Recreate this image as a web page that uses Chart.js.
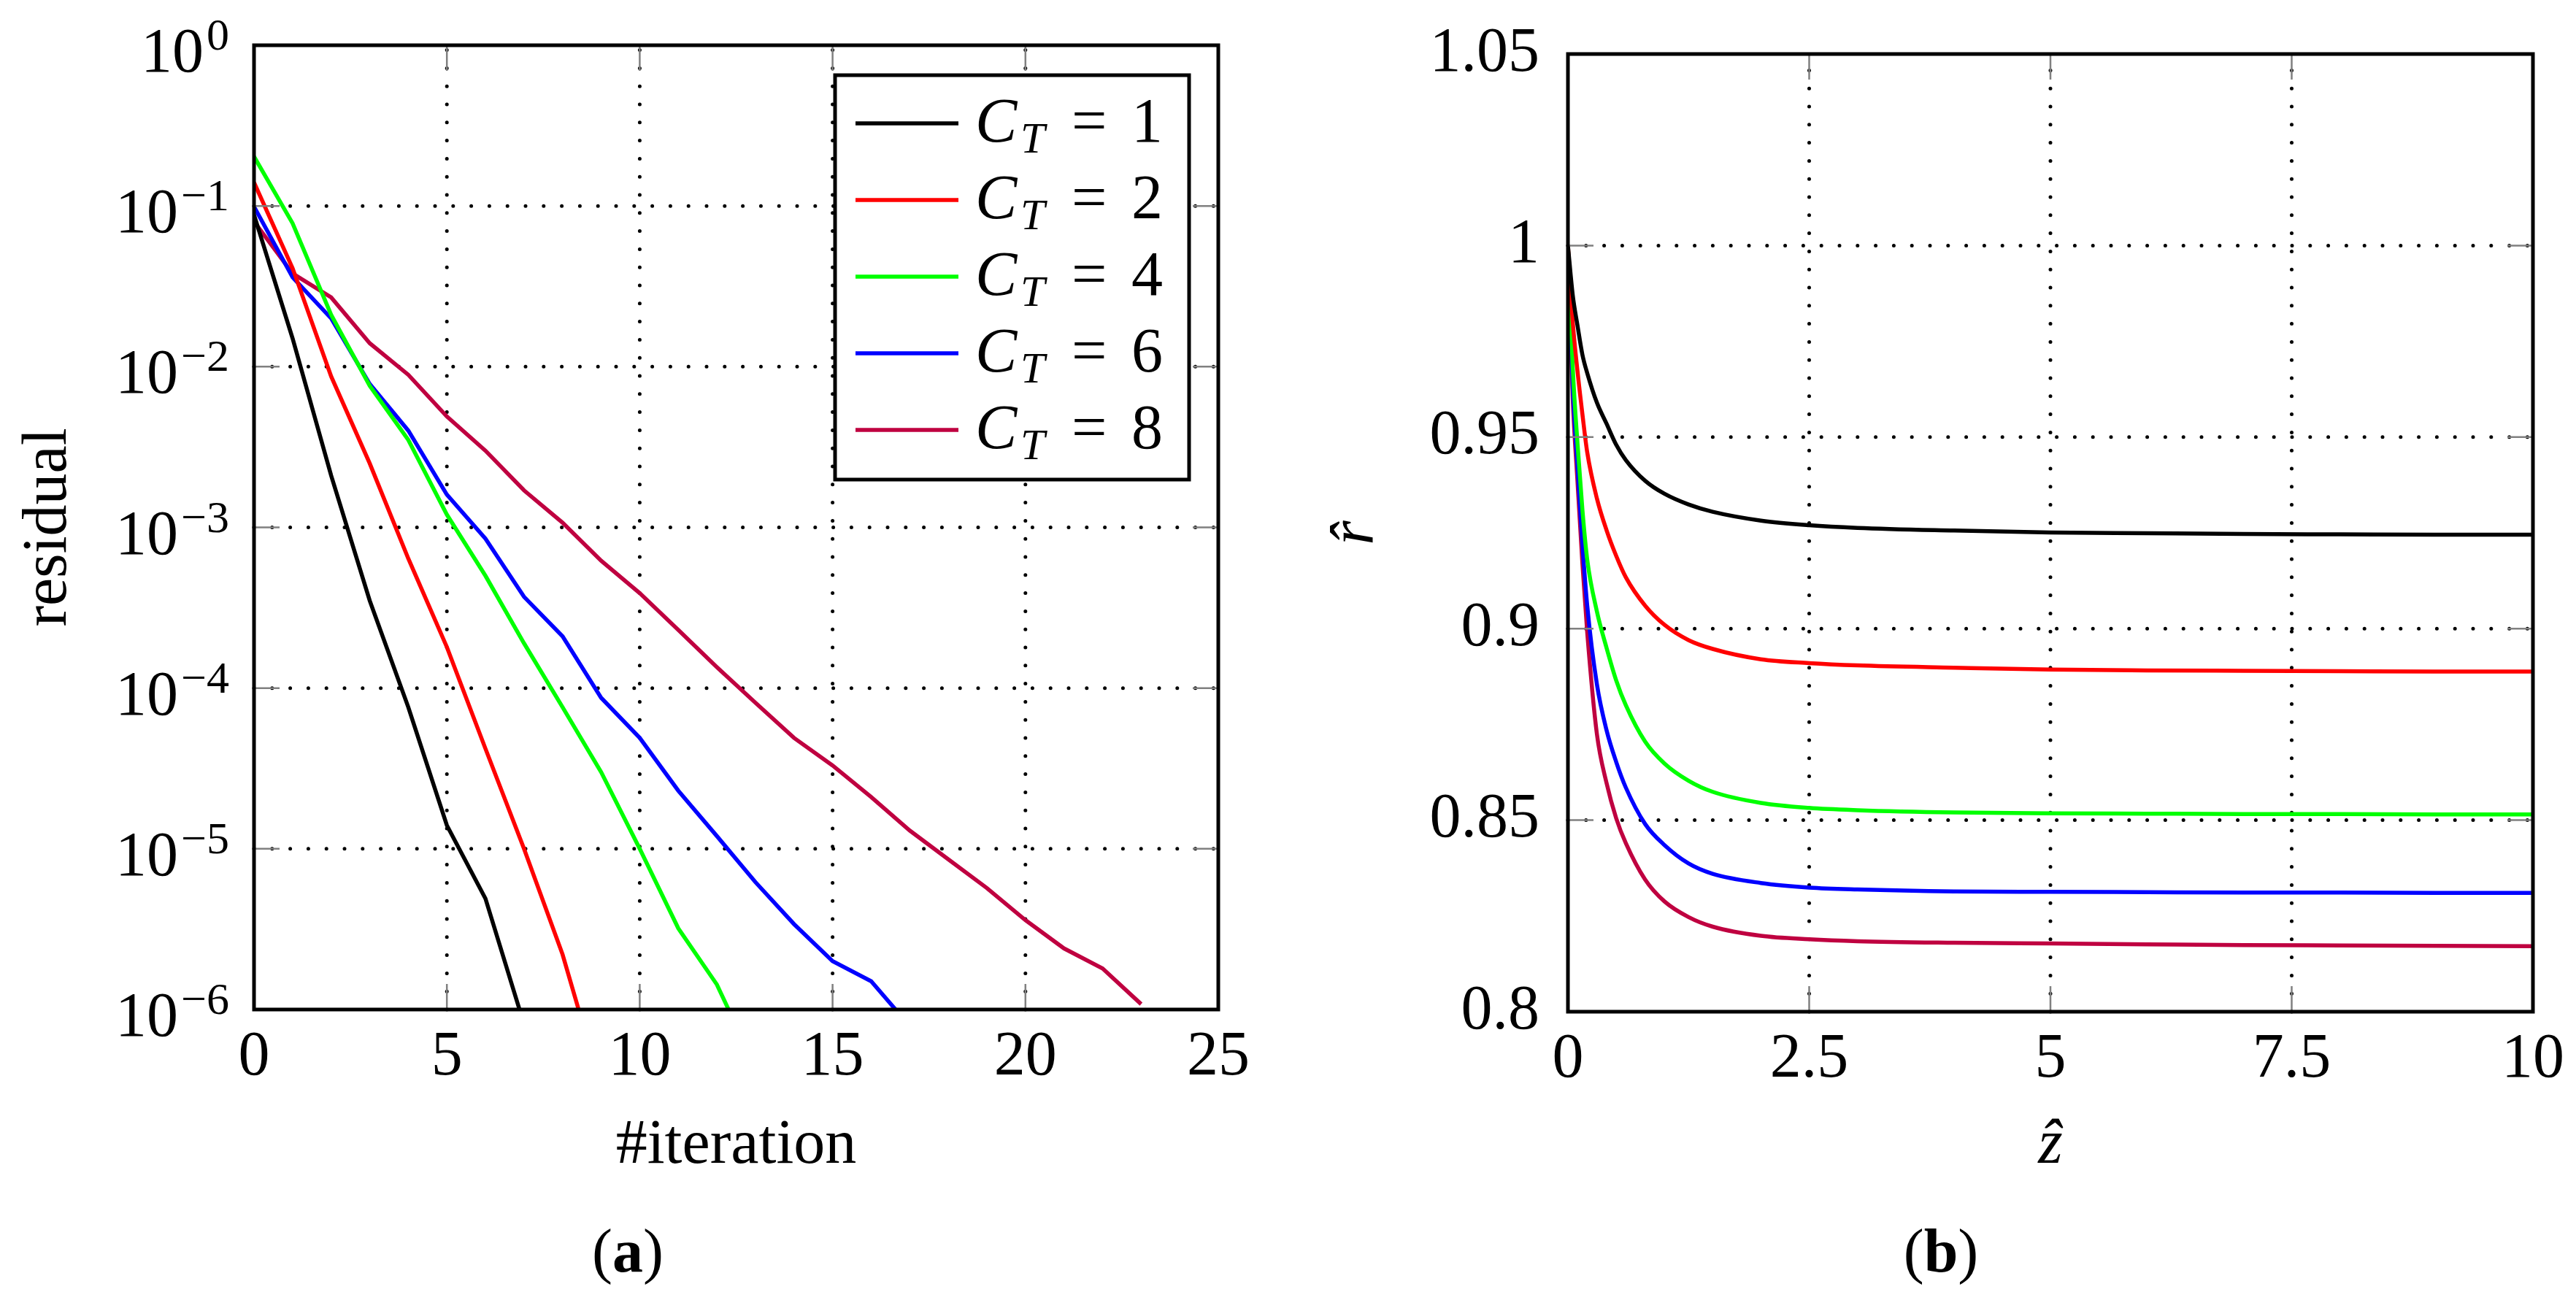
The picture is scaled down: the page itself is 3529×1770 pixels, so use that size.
<!DOCTYPE html>
<html>
<head>
<meta charset="utf-8">
<script src="https://cdn.jsdelivr.net/npm/chart.js@4.4.1/dist/chart.umd.min.js"></script>
<style>
    body { margin: 0; background: #fff; width: 3529px; height: 1770px; overflow: hidden; position: relative; }
    canvas { position: absolute; top: 0; }
    #chart-a { left: 0; }
    #chart-b { left: 1760px; }
    .caption { position: absolute; top: 1714px; transform: translate(-50%, -50%); font: 84px "Liberation Serif", serif; line-height: 1; color: #000; }
</style>
</head>
<body>
<canvas id="chart-a" width="1760" height="1770"></canvas>
<canvas id="chart-b" width="1769" height="1770"></canvas>
<div class="caption" style="left: 860px;">(<b>a</b>)</div>
<div class="caption" style="left: 2659px;">(<b>b</b>)</div>
<script>
// (a) residual per iteration
const iterations = [0, 1, 2, 3, 4, 5, 6, 7, 8, 9, 10, 11, 12, 13, 14, 15, 16, 17, 18, 19, 20, 21, 22, 23];
const ctValues = [1, 2, 4, 6, 8];
const residualCT1 = [0.088, 0.015, 2.1e-3, 3.5e-4, 7.6e-5, 1.4e-5, 4.9e-6, 8.1e-7];
const residualCT2 = [0.14, 0.041, 8.7e-3, 2.5e-3, 6.4e-4, 1.8e-4, 4.2e-5, 1.0e-5, 2.2e-6, 3.3e-7];
const residualCT4 = [0.203, 0.078, 0.021, 7.6e-3, 3.5e-3, 1.2e-3, 5.0e-4, 1.9e-4, 7.6e-5, 3.0e-5, 1.0e-5, 3.2e-6, 1.43e-6, 4.4e-7];
const residualCT6 = [0.099, 0.036, 0.020, 7.8e-3, 4.0e-3, 1.6e-3, 8.5e-4, 3.7e-4, 2.1e-4, 8.7e-5, 4.9e-5, 2.3e-5, 1.2e-5, 6.2e-6, 3.4e-6, 2.0e-6, 1.5e-6, 7.9e-7];
const residualCT8 = [0.080, 0.038, 0.027, 0.014, 8.9e-3, 4.9e-3, 3.0e-3, 1.7e-3, 1.07e-3, 6.2e-4, 3.9e-4, 2.3e-4, 1.35e-4, 8.1e-5, 4.9e-5, 3.3e-5, 2.1e-5, 1.3e-5, 8.6e-6, 5.7e-6, 3.6e-6, 2.4e-6, 1.8e-6, 1.08e-6];
const iterTicks = [0, 5, 10, 15, 20, 25];
const iterTickLabels = ['0', '5', '10', '15', '20', '25'];
const residualTicks = [1e-6, 1e-5, 1e-4, 1e-3, 1e-2, 1e-1, 1];
const residualTickExponents = ['\u22126', '\u22125', '\u22124', '\u22123', '\u22122', '\u22121', '0'];

// (b) r-hat along z-hat
const zHat = [0, 0.05, 0.1, 0.15, 0.2, 0.3, 0.4, 0.5, 0.6, 0.8, 1, 1.25, 1.5, 2, 2.5, 3, 4, 5, 6, 7, 8, 9, 10];
const rHatCT1 = [1, 0.987, 0.979, 0.9715, 0.9667, 0.959, 0.9535, 0.948, 0.944, 0.9386, 0.9352, 0.9324, 0.9305, 0.9282, 0.927, 0.9263, 0.9256, 0.9251, 0.9249, 0.9247, 0.9246, 0.9245, 0.9245];
const rHatCT2 = [1, 0.980, 0.967, 0.956, 0.946, 0.934, 0.9257, 0.919, 0.9134, 0.906, 0.901, 0.897, 0.8947, 0.892, 0.891, 0.8904, 0.8898, 0.8893, 0.8891, 0.889, 0.8889, 0.8888, 0.8888];
const rHatCT4 = [1, 0.968, 0.948, 0.931, 0.918, 0.9045, 0.895, 0.8865, 0.88, 0.8705, 0.8648, 0.8603, 0.8574, 0.8545, 0.8532, 0.8526, 0.852, 0.8518, 0.8517, 0.8516, 0.8516, 0.8515, 0.8515];
const rHatCT6 = [1, 0.963, 0.942, 0.922, 0.906, 0.8855, 0.8735, 0.8652, 0.8585, 0.849, 0.8435, 0.8387, 0.836, 0.8336, 0.8324, 0.8319, 0.8314, 0.8313, 0.8312, 0.8311, 0.8311, 0.831, 0.831];
const rHatCT8 = [1, 0.960, 0.938, 0.917, 0.899, 0.8725, 0.8597, 0.8505, 0.844, 0.8345, 0.8288, 0.8247, 0.8222, 0.8198, 0.8189, 0.8184, 0.818, 0.8178, 0.8176, 0.8174, 0.8173, 0.8172, 0.8171];
const zTicks = [0, 2.5, 5, 7.5, 10];
const zTickLabels = ['0', '2.5', '5', '7.5', '10'];
const rTicks = [0.8, 0.85, 0.9, 0.95, 1, 1.05];
const rTickLabels = ['0.8', '0.85', '0.9', '0.95', '1', '1.05'];

const seriesColors = ['#000000', '#ff0000', '#00ff00', '#0000ff', '#bf0040'];
const FONT = '"Liberation Serif", serif';

Chart.defaults.font.family = FONT;
Chart.defaults.color = '#000';

// dotted grid, grey inner tick marks and the black frame
function framePlugin(xTicks, yTicks) {
    return {
        id: 'frame',
        beforeDatasetsDraw(chart) {
            const { ctx, chartArea: a, scales: { x, y } } = chart;
            ctx.save();
            ctx.strokeStyle = '#000';
            ctx.lineWidth = 5;
            ctx.lineCap = 'round';
            ctx.setLineDash([0, 24.8]);
            xTicks.slice(1, -1).forEach(v => {
                const px = x.getPixelForValue(v);
                ctx.beginPath(); ctx.moveTo(px, a.bottom); ctx.lineTo(px, a.top); ctx.stroke();
            });
            yTicks.slice(1, -1).forEach(v => {
                const py = y.getPixelForValue(v);
                ctx.beginPath(); ctx.moveTo(a.left, py); ctx.lineTo(a.right, py); ctx.stroke();
            });
            ctx.restore();
        },
        afterDatasetsDraw(chart) {
            const { ctx, chartArea: a, scales: { x, y } } = chart;
            ctx.save();
            ctx.strokeStyle = '#808080';
            ctx.lineWidth = 2.5;
            const len = 35;
            xTicks.slice(1, -1).forEach(v => {
                const px = x.getPixelForValue(v);
                ctx.beginPath();
                ctx.moveTo(px, a.bottom); ctx.lineTo(px, a.bottom - len);
                ctx.moveTo(px, a.top); ctx.lineTo(px, a.top + len);
                ctx.stroke();
            });
            yTicks.slice(1, -1).forEach(v => {
                const py = y.getPixelForValue(v);
                ctx.beginPath();
                ctx.moveTo(a.left, py); ctx.lineTo(a.left + len, py);
                ctx.moveTo(a.right, py); ctx.lineTo(a.right - len, py);
                ctx.stroke();
            });
            ctx.strokeStyle = '#000';
            ctx.lineWidth = 5;
            ctx.strokeRect(a.left, a.top, a.right - a.left, a.bottom - a.top);
            ctx.restore();
        }
    };
}

// 10^n labels with real superscripts
const powerLabels = {
    id: 'powerLabels',
    afterDraw(chart) {
        const { ctx, scales: { y } } = chart;
        ctx.save();
        ctx.fillStyle = '#000';
        ctx.textAlign = 'right';
        ctx.textBaseline = 'alphabetic';
        residualTicks.forEach((v, i) => {
            const py = y.getPixelForValue(v);
            const right = y.right - 34;
            ctx.font = `62px ${FONT}`;
            const sup = residualTickExponents[i];
            const w = ctx.measureText(sup).width;
            ctx.fillText(sup, right, py + 6);
            ctx.font = `86px ${FONT}`;
            ctx.fillText('10', right - w - 4, py + 36);
        });
        ctx.restore();
    }
};

// legend box inside the plot area of (a)
const legendBox = {
    id: 'legendBox',
    afterDatasetsDraw(chart) {
        const { ctx } = chart;
        ctx.save();
        ctx.fillStyle = '#fff';
        ctx.fillRect(1144, 103, 485, 554);
        ctx.lineWidth = 5;
        ctx.strokeStyle = '#000';
        ctx.strokeRect(1144, 103, 485, 554);
        chart.data.datasets.forEach((ds, i) => {
            const row = 169 + i * 105;
            ctx.strokeStyle = ds.borderColor;
            ctx.lineWidth = ds.borderWidth;
            ctx.beginPath(); ctx.moveTo(1172, row); ctx.lineTo(1313, row); ctx.stroke();
            ctx.fillStyle = '#000';
            ctx.textAlign = 'left';
            ctx.textBaseline = 'alphabetic';
            ctx.font = `italic 86px ${FONT}`;
            ctx.fillText('C', 1336, row + 25);
            ctx.font = `italic 60px ${FONT}`;
            ctx.fillText('T', 1398, row + 40);
            ctx.font = `86px ${FONT}`;
            ctx.fillText('=', 1468, row + 25);
            ctx.fillText(String(ctValues[i]), 1550, row + 25);
        });
        ctx.restore();
    }
};

const tickFont = { size: 86, lineHeight: 1 };
const titleFont = { size: 86, lineHeight: 1.2 };

function drawCharts() {
    // Chart (a)
    const residualSeries = [residualCT1, residualCT2, residualCT4, residualCT6, residualCT8];
    new Chart(document.getElementById('chart-a'), {
        type: 'line',
        data: {
            datasets: residualSeries.map((vals, i) => ({
                label: `C_T = ${ctValues[i]}`,
                data: vals.map((v, k) => ({ x: iterations[k], y: v })),
                borderColor: seriesColors[i],
                borderWidth: 5.5,
                pointRadius: 0,
                tension: 0,
                fill: false
            }))
        },
        options: {
            responsive: false,
            animation: false,
            devicePixelRatio: 1,
            layout: { padding: { top: 62, right: 91, left: 0, bottom: 0 } },
            plugins: { legend: { display: false }, tooltip: { enabled: false } },
            scales: {
                x: {
                    type: 'linear', min: 0, max: 25,
                    grid: { display: false }, border: { display: false },
                    afterBuildTicks: s => { s.ticks = iterTicks.map(v => ({ value: v })); },
                    ticks: { font: tickFont, padding: 15, maxRotation: 0, callback: (v, i) => iterTickLabels[i] },
                    title: { display: true, text: '#iteration', font: titleFont, padding: { top: 0, bottom: 148 } },
                    afterFit: s => { s.height = 387; }
                },
                y: {
                    type: 'logarithmic', min: 1e-6, max: 1,
                    grid: { display: false }, border: { display: false },
                    afterBuildTicks: s => { s.ticks = residualTicks.map(v => ({ value: v })); },
                    ticks: { display: false },
                    title: { display: true, text: 'residual', font: titleFont, padding: { top: 16, bottom: 0 } },
                    afterFit: s => { s.width = 348; }
                }
            }
        },
        plugins: [framePlugin(iterTicks, residualTicks), powerLabels, legendBox]
    });

    // Chart (b)
    const rHatSeries = [rHatCT1, rHatCT2, rHatCT4, rHatCT6, rHatCT8];
    new Chart(document.getElementById('chart-b'), {
        type: 'line',
        data: {
            datasets: rHatSeries.map((vals, i) => ({
                label: `C_T = ${ctValues[i]}`,
                data: vals.map((v, k) => ({ x: zHat[k], y: v })),
                borderColor: seriesColors[i],
                borderWidth: 5.5,
                pointRadius: 0,
                cubicInterpolationMode: 'monotone',
                fill: false
            }))
        },
        options: {
            responsive: false,
            animation: false,
            devicePixelRatio: 1,
            layout: { padding: { top: 63, right: 59, left: 0, bottom: 0 } },
            plugins: { legend: { display: false }, tooltip: { enabled: false } },
            scales: {
                x: {
                    type: 'linear', min: 0, max: 10,
                    grid: { display: false }, border: { display: false },
                    afterBuildTicks: s => { s.ticks = zTicks.map(v => ({ value: v })); },
                    ticks: { font: tickFont, padding: 15, maxRotation: 0, callback: (v, i) => zTickLabels[i] },
                    title: { display: true, text: 'z\u0302', font: { ...titleFont, style: 'italic' }, padding: { top: 0, bottom: 148 } },
                    afterFit: s => { s.height = 384; }
                },
                y: {
                    type: 'linear', min: 0.8, max: 1.05,
                    grid: { display: false }, border: { display: false },
                    afterBuildTicks: s => { s.ticks = rTicks.map(v => ({ value: v })); },
                    ticks: { font: tickFont, padding: 31, callback: (v, i) => rTickLabels[i] },
                    title: { display: true, text: 'r\u0302', font: { ...titleFont, style: 'italic' }, padding: { top: 47, bottom: 0 } },
                    afterFit: s => { s.width = 388; }
                }
            }
        },
        plugins: [framePlugin(zTicks, rTicks)]
    });
}

// make sure the serif faces are ready before the canvases are painted
Promise.all([
    document.fonts.load('86px "Liberation Serif"'),
    document.fonts.load('italic 86px "Liberation Serif"')
]).catch(() => {}).then(drawCharts);
</script>
</body>
</html>
